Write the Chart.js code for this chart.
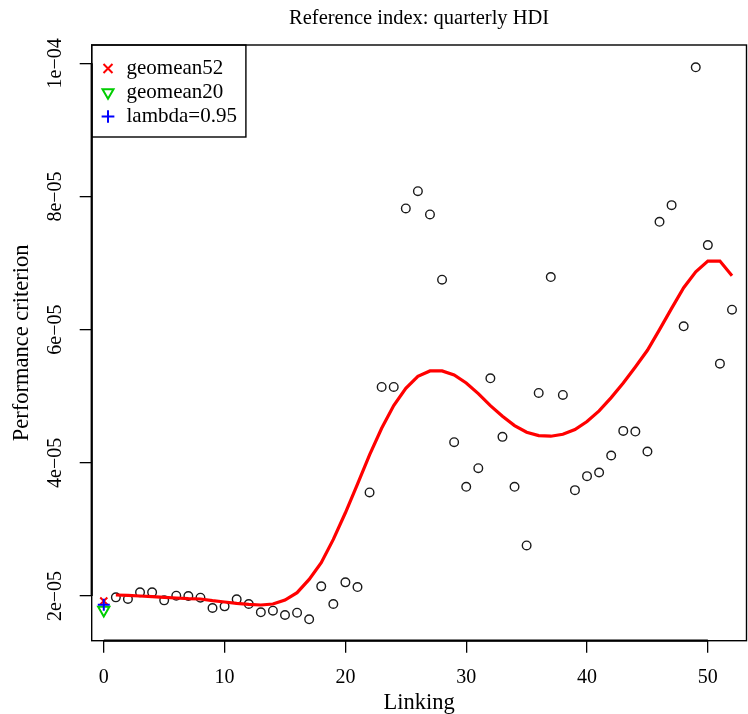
<!DOCTYPE html>
<html>
<head>
<meta charset="utf-8">
<script src="https://cdn.jsdelivr.net/npm/chart.js@4/dist/chart.umd.min.js"></script>
<style>
  html, body { margin: 0; padding: 0; background: #fff; overflow: hidden; }
  canvas { display: block; }
</style>
</head>
<body>
<canvas id="chart" width="748" height="714"></canvas>
<script>
// ===== Data =====
const linking = [1, 2, 3, 4, 5, 6, 7, 8, 9, 10, 11, 12, 13, 14, 15, 16, 17, 18, 19, 20,
  21, 22, 23, 24, 25, 26, 27, 28, 29, 30, 31, 32, 33, 34, 35, 36, 37, 38, 39, 40,
  41, 42, 43, 44, 45, 46, 47, 48, 49, 50, 51, 52];

const criterion = [1.98e-5, 1.955e-5, 2.055e-5, 2.055e-5, 1.935e-5, 2.005e-5, 2.0e-5, 1.975e-5, 1.82e-5, 1.845e-5,
  1.95e-5, 1.88e-5, 1.755e-5, 1.78e-5, 1.715e-5, 1.75e-5, 1.65e-5, 2.145e-5, 1.88e-5, 2.205e-5,
  2.135e-5, 3.555e-5, 5.14e-5, 5.14e-5, 7.82e-5, 8.08e-5, 7.73e-5, 6.75e-5, 4.31e-5, 3.64e-5,
  3.92e-5, 5.27e-5, 4.39e-5, 3.64e-5, 2.76e-5, 5.05e-5, 6.79e-5, 5.02e-5, 3.59e-5, 3.80e-5,
  3.855e-5, 4.11e-5, 4.48e-5, 4.47e-5, 4.17e-5, 7.62e-5, 7.87e-5, 6.05e-5, 9.94e-5, 7.27e-5,
  5.49e-5, 6.30e-5];

const smoothed = [2.015e-5, 2.01e-5, 2.0e-5, 1.99e-5, 1.98e-5, 1.97e-5, 1.96e-5, 1.955e-5, 1.93e-5, 1.91e-5,
  1.89e-5, 1.875e-5, 1.865e-5, 1.88e-5, 1.94e-5, 2.05e-5, 2.25e-5, 2.5e-5, 2.85e-5, 3.25e-5,
  3.68e-5, 4.12e-5, 4.52e-5, 4.86e-5, 5.12e-5, 5.30e-5, 5.38e-5, 5.38e-5, 5.32e-5, 5.20e-5,
  5.04e-5, 4.86e-5, 4.70e-5, 4.56e-5, 4.46e-5, 4.41e-5, 4.40e-5, 4.43e-5, 4.50e-5, 4.62e-5,
  4.78e-5, 4.98e-5, 5.20e-5, 5.44e-5, 5.69e-5, 6.00e-5, 6.32e-5, 6.63e-5, 6.87e-5, 7.03e-5,
  7.03e-5, 6.81e-5];

const geomean52 = [1.925e-5];
const geomean20 = [1.79e-5];
const lambda095 = [1.87e-5];

const xTicks = [0, 10, 20, 30, 40, 50];
const yTicks = [2e-5, 4e-5, 6e-5, 8e-5, 1e-4];

const SERIF = "'Liberation Serif', 'Times New Roman', serif";

function fmtExp(v) {
  const parts = Number(v).toExponential(0).split("e");
  const e = parseInt(parts[1], 10);
  return parts[0] + "e" + (e < 0 ? "\u2212" : "+") + String(Math.abs(e)).padStart(2, "0");
}

// ===== Frame, axis lines and legend box =====
const framePlugin = {
  id: "frame",
  afterLayout(chart) {
    const a = chart.chartArea;
    const lg = chart.legend;
    if (lg) {
      lg.left = a.left + 5.3;
      lg.top = a.top + 10;
    }
    // centre the title over the plot region like R does
    const tb = chart.titleBlock;
    if (tb) {
      tb.left = a.left;
      tb.right = a.right;
      tb.width = a.right - a.left;
    }
  },
  afterDraw(chart) {
    const { ctx, chartArea: a, scales } = chart;
    ctx.save();
    ctx.strokeStyle = "#000";
    ctx.lineWidth = 1.4;
    ctx.strokeRect(a.left, a.top, a.right - a.left, a.bottom - a.top);

    // axis lines from first to last tick
    ctx.lineWidth = 2.2;
    ctx.beginPath();
    ctx.moveTo(scales.x.getPixelForValue(xTicks[0]), a.bottom);
    ctx.lineTo(scales.x.getPixelForValue(xTicks[xTicks.length - 1]), a.bottom);
    ctx.moveTo(a.left, scales.y.getPixelForValue(yTicks[0]));
    ctx.lineTo(a.left, scales.y.getPixelForValue(yTicks[yTicks.length - 1]));
    ctx.stroke();

    // legend border
    const boxes = chart.legend.legendHitBoxes || [];
    if (boxes.length) {
      let right = 0, bottom = 0;
      boxes.forEach((b) => {
        right = Math.max(right, b.left + b.width);
        bottom = Math.max(bottom, b.top + b.height);
      });
      ctx.lineWidth = 1.4;
      ctx.strokeRect(a.left, a.top, right + 9 - a.left, bottom + 10 - a.top);
    }
    ctx.restore();
  }
};

// ===== Chart =====
new Chart(document.getElementById("chart"), {
  type: "scatter",
  data: {
    datasets: [
      {
        label: "geomean52",
        data: geomean52.map((y) => ({ x: 0, y })),
        pointStyle: "crossRot",
        pointRadius: 5,
        borderColor: "#ff0000",
        backgroundColor: "#ff0000",
        borderWidth: 2,
        order: 1
      },
      {
        label: "geomean20",
        data: geomean20.map((y) => ({ x: 0, y })),
        pointStyle: "triangle",
        rotation: 180,
        pointRadius: 6.5,
        borderColor: "#00cd00",
        backgroundColor: "rgba(0,0,0,0)",
        borderWidth: 2,
        order: 2
      },
      {
        label: "lambda=0.95",
        data: lambda095.map((y) => ({ x: 0, y })),
        pointStyle: "cross",
        pointRadius: 6,
        borderColor: "#0000ff",
        backgroundColor: "#0000ff",
        borderWidth: 2,
        order: 0
      },
      {
        label: "smooth",
        type: "line",
        data: linking.map((x, i) => ({ x, y: smoothed[i] })),
        borderColor: "#ff0000",
        borderWidth: 3.2,
        pointRadius: 0,
        tension: 0,
        fill: false,
        order: 3
      },
      {
        label: "criterion",
        data: linking.map((x, i) => ({ x, y: criterion[i] })),
        pointStyle: "circle",
        pointRadius: 4.3,
        borderColor: "#1a1a1a",
        backgroundColor: "rgba(0,0,0,0)",
        borderWidth: 1.4,
        order: 4
      }
    ]
  },
  options: {
    responsive: false,
    animation: false,
    devicePixelRatio: 1,
    layout: { autoPadding: false, padding: { top: 0, right: 1.5, bottom: 0, left: 0 } },
    plugins: {
      title: {
        display: true,
        text: "Reference index: quarterly HDI",
        color: "#000",
        font: { family: SERIF, size: 20.5, weight: "normal" },
        padding: { top: 6, bottom: 14.4 }
      },
      legend: {
        position: "chartArea",
        align: "start",
        labels: {
          filter: (item) => item.text !== "smooth" && item.text !== "criterion",
          sort: (a, b) => a.datasetIndex - b.datasetIndex,
          usePointStyle: true,
          boxWidth: 16,
          boxHeight: 9,
          padding: 3,
          color: "#000",
          font: { family: SERIF, size: 21 }
        }
      },
      tooltip: { enabled: false }
    },
    scales: {
      x: {
        type: "linear",
        min: -1,
        max: 53.2,
        afterBuildTicks: (s) => { s.ticks = xTicks.map((v) => ({ value: v })); },
        afterFit: (s) => { s.height = 73.3; s.paddingLeft = 0; s.paddingRight = 0; },
        border: { display: false },
        grid: { drawOnChartArea: false, drawTicks: true, tickLength: 12, color: "#000", lineWidth: 1.3 },
        ticks: { autoSkip: false, maxRotation: 0, padding: 13, color: "#000", font: { family: SERIF, size: 20 } },
        title: { display: true, text: "Linking", color: "#000", font: { family: SERIF, size: 22.5 }, padding: { top: 0, bottom: -3 } }
      },
      y: {
        type: "linear",
        min: 1.329e-5,
        max: 1.0275e-4,
        afterBuildTicks: (s) => { s.ticks = yTicks.map((v) => ({ value: v })); },
        afterFit: (s) => { s.width = 91.7; s.paddingTop = 0; s.paddingBottom = 0; },
        border: { display: false },
        grid: { drawOnChartArea: false, drawTicks: true, tickLength: 12, color: "#000", lineWidth: 1.3 },
        ticks: {
          autoSkip: false,
          minRotation: 90,
          maxRotation: 90,
          crossAlign: "center",
          padding: -1,
          color: "#000",
          font: { family: SERIF, size: 20 },
          callback: (v) => fmtExp(v)
        },
        title: { display: true, text: "Performance criterion", color: "#000", font: { family: SERIF, size: 22.5 }, padding: { top: 8.5, bottom: 0 } }
      }
    }
  },
  plugins: [framePlugin]
});
</script>
</body>
</html>
